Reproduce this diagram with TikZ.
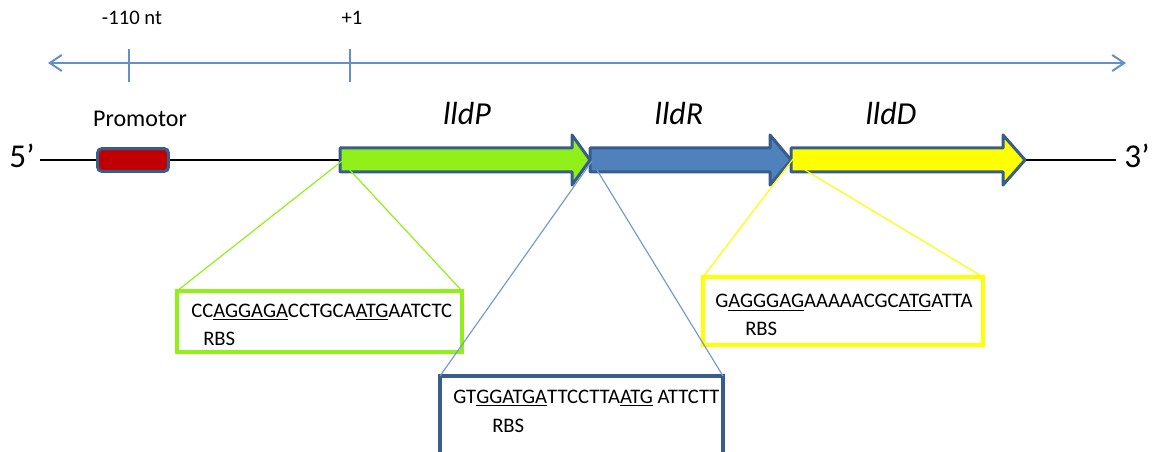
\documentclass[tikz,border=0pt]{standalone}
\usepackage{fontspec}
\setmainfont{Carlito}
\usetikzlibrary{arrows.meta}

\definecolor{genegreen}{RGB}{146,240,26}
\definecolor{geneblue}{RGB}{79,129,189}
\definecolor{geneyellow}{RGB}{255,255,0}
\definecolor{promred}{RGB}{192,0,0}
\definecolor{rimblue}{RGB}{56,93,138}
\definecolor{axisblue}{RGB}{100,142,204}
\definecolor{zoomblue}{RGB}{120,155,205}

\tikzset{
  seqtext/.style={anchor=base west,inner sep=0pt,font=\fontsize{15.5}{18}\selectfont},
  genelabel/.style={anchor=base,inner sep=0pt,font=\fontsize{24}{28}\selectfont\itshape},
  endlabel/.style={anchor=base,inner sep=0pt,font=\fontsize{25}{30}\selectfont},
  ticklabel/.style={anchor=base,inner sep=0pt,font=\fontsize{15.5}{18}\selectfont},
  zoombox/.style={draw=#1,line width=3pt,outer sep=0pt,anchor=north west,inner sep=0pt},
  zoomline/.style={draw=#1,line width=0.9pt}
}

\begin{document}
\begin{tikzpicture}[x=0.75pt,y=-0.75pt]
\useasboundingbox (0,0) rectangle (1153,452);

%% position axis
\begin{scope}[draw=axisblue,line width=1.5pt]
  \coordinate (axisL) at (48,63);
  \coordinate (axisR) at (1126,63);
  \draw[{Straight Barb[length=9pt,width=12pt]}-{Straight Barb[length=9pt,width=12pt]}] (axisL) -- (axisR);
  \foreach \x in {129,350}{
    \draw (\x,49) -- (\x,82);
  }
\end{scope}
\node[ticklabel] (tick110) at (132,25) {-110 nt};
\node[ticklabel] (tick1) at (352,25) {+1};

%% DNA strand
\coordinate (dna5) at (40,160);
\coordinate (dna3) at (1116,160);
\draw[line width=1.2pt] (dna5) -- (dna3);
\node[endlabel] (five) at (22,168) {5’};
\node[endlabel] (three) at (1137,168) {3’};

\node[draw=rimblue,fill=promred,line width=2.25pt,rounded corners=3pt,
      minimum width=53pt,minimum height=17pt,inner sep=0pt] (promoter) at (133,160) {};
\node[anchor=base,inner sep=0pt,font=\fontsize{18}{22}\selectfont] (promlabel) at (140,127) {Promotor};

%% genes
\foreach \s/\b/\t/\c in {340/572/590/genegreen,590/770/791/geneblue,791/1003/1025/geneyellow}{
  \filldraw[fill=\c,draw=rimblue,line width=2.25pt,line join=round]
    (\s,148) -- (\b,148) -- (\b,135) -- (\t,160) -- (\b,185) -- (\b,172) -- (\s,172) -- cycle;
}
\node[genelabel] (lldP) at (467,125) {lldP};
\node[genelabel] (lldR) at (679,125) {lldR};
\node[genelabel] (lldD) at (891,125) {lldD};

\coordinate (Pa) at (342,161);
\coordinate (Pb) at (348,168);
\coordinate (Ra) at (592,161);
\coordinate (Rb) at (597,170);
\coordinate (Da) at (793,159);
\coordinate (Db) at (805,170);

%% sequence boxes
\node[zoombox=genegreen,minimum width=213.75pt,minimum height=45.75pt] (boxP) at (177,291) {};
\node[zoombox=rimblue,line width=2.5pt,minimum width=212.25pt,minimum height=75pt] (boxR) at (440,376) {};
\node[zoombox=geneyellow,minimum width=210pt,minimum height=51pt] (boxD) at (703,277) {};

\draw[zoomline=genegreen] (Pa) -- (boxP.north west);
\draw[zoomline=genegreen] (Pb) -- (boxP.north east);
\draw[zoomline=zoomblue] (Ra) -- (boxR.north west);
\draw[zoomline=zoomblue] (Rb) -- (boxR.north east);
\draw[zoomline=geneyellow] (Da) -- (boxD.north west);
\draw[zoomline=geneyellow] (Db) -- (boxD.north east);

\node[seqtext] (seqP) at (191,317) {CC\underline{AGGAGA}CCTGCA\underline{ATG}AATCTC};
\node[seqtext] (rbsP) at (203,345) {RBS};
\node[seqtext] (seqR) at (453,403) {GT\underline{GGATGA}TTCCTTA\underline{ATG} ATTCTT};
\node[seqtext] (rbsR) at (492,432) {RBS};
\node[seqtext] (seqD) at (715,308) {G\underline{AGGGAG}AAAAACGC\underline{ATG}ATTA};
\node[seqtext] (rbsD) at (745,335) {RBS};
\end{tikzpicture}
\end{document}
